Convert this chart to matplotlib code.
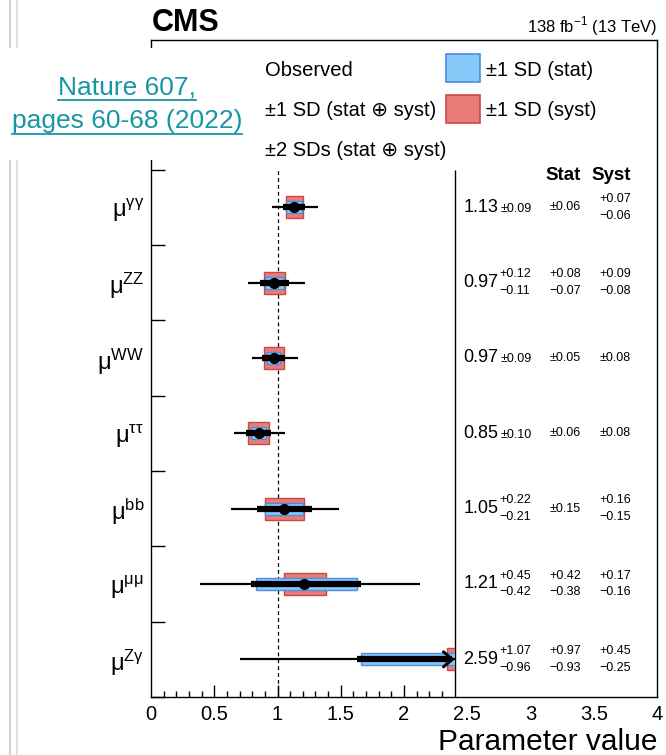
import numpy as np
import matplotlib
matplotlib.use("Agg")
import matplotlib.pyplot as plt
from matplotlib.patches import Rectangle
from matplotlib.lines import Line2D

plt.rcParams['font.family'] = ['Liberation Sans', 'DejaVu Sans']
plt.rcParams['mathtext.fontset'] = 'custom'
plt.rcParams['mathtext.rm'] = 'Liberation Sans'

# ---------------- data (top to bottom) ----------------
labels   = ["μ^{γγ}", "μ^{ZZ}", "μ^{WW}", "μ^{ττ}", "μ^{bb}", "μ^{μμ}", "μ^{Zγ}"]
value    = [1.13, 0.97, 0.97, 0.85, 1.05, 1.21, 2.59]
tot_up   = [0.09, 0.12, 0.09, 0.10, 0.22, 0.45, 1.07]
tot_dn   = [0.09, 0.11, 0.09, 0.10, 0.21, 0.42, 0.96]
stat_up  = [0.06, 0.08, 0.05, 0.06, 0.15, 0.42, 0.97]
stat_dn  = [0.06, 0.07, 0.05, 0.06, 0.15, 0.38, 0.93]
syst_up  = [0.07, 0.09, 0.08, 0.08, 0.16, 0.17, 0.45]
syst_dn  = [0.06, 0.08, 0.08, 0.08, 0.15, 0.16, 0.25]
# +-2 SD total
lo2      = [0.96, 0.77, 0.80, 0.66, 0.635, 0.39, 0.70]
hi2      = [1.32, 1.215, 1.165, 1.06, 1.49, 2.13, 4.80]

XCUT = 2.4          # plot region ends here, text panel to the right
XMAX = 4.0
N = len(value)
YTOP = 8.72         # room for the legend above the categories
ypos = N - 0.5 - np.arange(N)

BLUE_F, BLUE_E = "#88c8f8", "#4a8ee0"
RED_F, RED_E = "#e87c78", "#c84a48"
TEAL = "#1797a3"

W, H = 666, 755
fig = plt.figure(figsize=(W / 100, H / 100), dpi=100)
def fx(px): return px / W
def fy(py): return 1 - py / H

ax = fig.add_axes([fx(151), fy(697), (657 - 151) / W, (697 - 40) / H])
ax.set_xlim(0, XMAX); ax.set_ylim(0, YTOP)
for s in ax.spines.values():
    s.set_linewidth(1.0)

clip = Rectangle((0, 0), XCUT, N, transform=ax.transData)

def fmt(v): return f"{v:.2f}".replace("-", "\u2212")

for i in range(N):
    y, v = ypos[i], value[i]
    arts = []
    arts.append(ax.barh(y, syst_up[i] + syst_dn[i], left=v - syst_dn[i], height=0.29,
                        color=RED_F, edgecolor=RED_E, lw=1.0, zorder=2)[0])
    arts.append(ax.barh(y, stat_up[i] + stat_dn[i], left=v - stat_dn[i], height=0.16,
                        color=BLUE_F, edgecolor=BLUE_E, lw=1.0, zorder=3)[0])
    arts.append(ax.hlines(y, lo2[i], hi2[i], color="k", lw=1.6, zorder=4))
    hi1 = min(v + tot_up[i], XCUT)
    arts.append(ax.hlines(y, v - tot_dn[i], hi1 - (0.02 if v + tot_up[i] > XCUT else 0),
                          color="k", lw=4.5, zorder=5))
    if v + tot_up[i] > XCUT:
        # out-of-range: chevron at the edge of the plot region
        ax.annotate("", xy=(XCUT, y), xytext=(XCUT - 0.1, y),
                    arrowprops=dict(arrowstyle="->,head_length=0.35,head_width=0.3",
                                    lw=2.2, color="k", shrinkA=0, shrinkB=0,
                                    mutation_scale=18), zorder=6)
    else:
        arts.append(ax.plot(v, y, "o", color="k", ms=7, zorder=6)[0])
    for a in arts:
        a.set_clip_path(clip)

    # numbers column
    ax.text(2.745, y, fmt(v), ha="right", va="center", fontsize=13)
    if tot_up[i] == tot_dn[i]:
        ax.text(2.76, y - 0.02, "\u00b1" + fmt(tot_up[i]), ha="left", va="center", fontsize=9)
    else:
        ax.text(2.755, y + 0.11, "+" + fmt(tot_up[i]), ha="left", va="center", fontsize=9)
        ax.text(2.755, y - 0.11, "\u2212" + fmt(tot_dn[i]), ha="left", va="center", fontsize=9)
    for xr, up, dn in [(3.40, stat_up[i], stat_dn[i]), (3.795, syst_up[i], syst_dn[i])]:
        if up == dn:
            ax.text(xr, y, "\u00b1" + fmt(up), ha="right", va="center", fontsize=9)
        else:
            ax.text(xr, y + 0.11, "+" + fmt(up), ha="right", va="center", fontsize=9)
            ax.text(xr, y - 0.11, "\u2212" + fmt(dn), ha="right", va="center", fontsize=9)

ax.text(3.40, 6.92, "Stat", ha="right", va="center", fontsize=13.5, fontweight="bold")
ax.text(3.795, 6.92, "Syst", ha="right", va="center", fontsize=13.5, fontweight="bold")

ax.vlines(1.0, 0, N, color="k", lw=0.9, linestyles=(0, (3, 2.5)), zorder=1)
ax.vlines(XCUT, 0, N, color="k", lw=1.0, zorder=1)

# y axis: boundary ticks (major), labels on category centres (minor)
ax.set_yticks(np.arange(0, N + 1))
ax.set_yticklabels([])
ax.tick_params(axis="y", which="major", direction="in", length=10, width=1.0)
ax.set_yticks(ypos, ["$\\mathregular{" + l + "}$" for l in labels], minor=True)
ax.tick_params(axis="y", which="minor", length=0, pad=5, labelsize=17)

# x axis: labels 0..4 everywhere, tick marks only inside the plot region
ax.set_xticks(np.arange(0, XMAX + 0.01, 0.5), ["0", "0.5", "1", "1.5", "2", "2.5", "3", "3.5", "4"])
ax.tick_params(axis="x", which="major", length=0, pad=6, labelsize=14.5)
ax2 = ax.twiny()
ax2.set_xlim(0, XMAX)
ax2.xaxis.set_ticks_position("bottom")
ax2.set_xticks([0.5, 1.0, 1.5, 2.0])
ax2.set_xticks([t for t in np.arange(0.1, XCUT, 0.1) if abs(t * 2 - round(t * 2)) > 1e-6], minor=True)
ax2.tick_params(which="major", direction="in", length=8.5, width=1.0, labelbottom=False, labeltop=False)
ax2.tick_params(which="minor", direction="in", length=4.3, width=1.0)
for s in ax2.spines.values():
    s.set_visible(False)

fig.text(fx(657), fy(750), "Parameter value", fontsize=21.5, ha="right", va="baseline")

# header
fig.text(fx(152), fy(31), "CMS", fontsize=22, fontweight="bold", va="baseline")
fig.text(fx(657), fy(32), "138 fb$^{\\mathregular{-1}}$ (13 TeV)", fontsize=12,
         ha="right", va="baseline")

# legend
LEG = 14.5
fig.text(fx(265), fy(70), "Observed", fontsize=LEG, va="center")
fig.text(fx(265), fy(110), "\u00b11 SD (stat \u2295 syst)", fontsize=LEG, va="center")
fig.text(fx(265), fy(150), "\u00b12 SDs (stat \u2295 syst)", fontsize=LEG, va="center")
fig.patches.append(Rectangle((fx(446), fy(82)), 34 / W, 28 / H, transform=fig.transFigure,
                             facecolor=BLUE_F, edgecolor=BLUE_E, lw=1.2))
fig.patches.append(Rectangle((fx(446), fy(123)), 34 / W, 28 / H, transform=fig.transFigure,
                             facecolor=RED_F, edgecolor=RED_E, lw=1.2))
fig.text(fx(486), fy(70), "\u00b11 SD (stat)", fontsize=LEG, va="center")
fig.text(fx(486), fy(110), "\u00b11 SD (syst)", fontsize=LEG, va="center")

# page-edge lines and the citation link pasted over the top-left corner
for xg, c in [(9.5, "#c8c8c8"), (16.5, "#d8d8d8")]:
    fig.lines.append(Line2D([fx(xg), fx(xg)], [0, 1], transform=fig.transFigure,
                            color=c, lw=1.2, zorder=0.5))
fig.patches.append(Rectangle((0, fy(160)), fx(257), 112 / H, transform=fig.transFigure,
                             facecolor="white", edgecolor="none", zorder=1))
t1 = fig.text(fx(127), fy(87), "Nature 607,", fontsize=19, color=TEAL, ha="center", va="center", zorder=3)
t2 = fig.text(fx(127), fy(121), "pages 60-68 (2022)", fontsize=19, color=TEAL, ha="center", va="center", zorder=3)
r = fig.canvas.get_renderer()
for t, uy in [(t1, 100), (t2, 134)]:
    bb = t.get_window_extent(r)
    fig.lines.append(Line2D([bb.x0 / W, bb.x1 / W], [fy(uy), fy(uy)], transform=fig.transFigure,
                            color=TEAL, lw=1.3, zorder=3))

fig.savefig("out.png", dpi=100)
